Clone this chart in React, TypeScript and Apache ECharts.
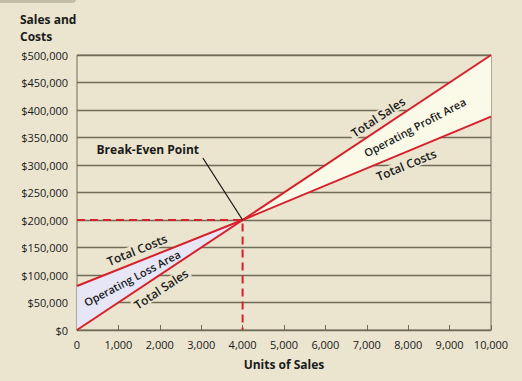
import React, { useEffect, useRef } from "react";
import * as echarts from "echarts";

// ---- data ----
const unitTicks = [0, 1000, 2000, 3000, 4000, 5000, 6000, 7000, 8000, 9000, 10000];
const totalSales: number[][] = [[0, 0], [10000, 500000]];
const totalCosts: number[][] = [[0, 80000], [4000, 200000], [10000, 388000]];
const breakEven: number[] = [4000, 200000];
const pointerStart: number[] = [3040, 312700];

// annotations: [x, y, text, alignedWith]
const annotations: [number, number, string, string][] = [
  [1450, 145500, "Total Costs", "costs"],
  [1330, 94500, "Operating Loss Area", "mid"],
  [2030, 74500, "Total Sales", "sales"],
  [7270, 387000, "Total Sales", "sales"],
  [8160, 369000, "Operating Profit Area", "mid"],
  [7950, 300000, "Total Costs", "costs"],
];
const breakEvenLabel: [number, number, string] = [1710, 329000, "Break-Even Point"];

const BG = "#ebe5cf";
const GRID = "#716c58";
const RED = "#d6202c";
const FONT = "'Open Sans', 'Noto Sans', sans-serif";

const lossPolygon = [totalCosts[0], breakEven, totalSales[0]];
const profitPolygon = [breakEven, totalSales[1], totalCosts[totalCosts.length - 1]];

function fmtMoney(v: number) {
  return "$" + v.toLocaleString("en-US");
}

export default function App() {
  const ref = useRef<HTMLDivElement>(null);
  useEffect(() => {
    document.body.style.margin = "0";
    const chart = echarts.init(ref.current!, undefined, { renderer: "svg" });

    const polySeries = (pts: number[][], color: string) => ({
      type: "custom",
      coordinateSystem: "cartesian2d",
      silent: true,
      z: 1,
      data: [[0, 0]],
      renderItem: (_p: any, api: any) => ({
        type: "polygon",
        shape: { points: pts.map((p) => api.coord(p)) },
        style: { fill: color },
      }),
    });

    const angleOf = (api: any, a: number[], b: number[]) => {
      const p1 = api.coord(a);
      const p2 = api.coord(b);
      return Math.atan2(-(p2[1] - p1[1]), p2[0] - p1[0]);
    };

    chart.setOption({
      animation: false,
      backgroundColor: BG,
      title: {
        text: "Sales and\nCosts",
        left: 20,
        top: 11,
        padding: 0,
        textStyle: { fontFamily: FONT, fontSize: 12, fontWeight: "bold", color: "#1a1a1a", lineHeight: 17 },
      },
      graphic: [
        { type: "rect", shape: { x: -10, y: -10, width: 86, height: 13, r: 4 }, style: { fill: "#c2bca6" } },
      ],
      grid: { left: 77, right: 31, top: 55, bottom: 51, show: true, borderColor: GRID, borderWidth: 1, backgroundColor: BG },
      xAxis: {
        type: "value",
        min: 0,
        max: 10000,
        interval: 1000,
        name: "Units of Sales",
        nameLocation: "middle",
        nameGap: 28,
        nameTextStyle: { fontFamily: FONT, fontSize: 12, fontWeight: "bold", color: "#1a1a1a" },
        axisLine: { show: true, lineStyle: { color: GRID, width: 1 } },
        axisTick: { show: true, inside: true, length: 5, lineStyle: { color: GRID } },
        splitLine: { show: false },
        axisLabel: {
          margin: 9,
          fontFamily: FONT,
          fontSize: 11,
          color: "#1a1a1a",
          formatter: (v: number) => v.toLocaleString("en-US"),
          customValues: unitTicks,
        },
      },
      yAxis: {
        type: "value",
        min: 0,
        max: 500000,
        interval: 50000,
        axisLine: { show: false },
        axisTick: { show: false },
        splitLine: { show: true, lineStyle: { color: GRID, width: 1.3 } },
        axisLabel: { margin: 9, fontFamily: FONT, fontSize: 11, color: "#1a1a1a", formatter: fmtMoney },
      },
      series: [
        polySeries(lossPolygon, "#e6e6f6"),
        polySeries(profitPolygon, "#fbfae8"),
        {
          type: "line",
          data: [[0, breakEven[1]], breakEven, [breakEven[0], 0]],
          symbol: "none",
          z: 3,
          lineStyle: { color: RED, width: 2, type: [8, 5] },
        },
        {
          type: "line",
          data: totalSales,
          symbol: "none",
          z: 4,
          lineStyle: { color: RED, width: 2 },
        },
        {
          type: "line",
          data: totalCosts,
          symbol: "none",
          z: 4,
          lineStyle: { color: RED, width: 2 },
        },
        {
          type: "line",
          data: [pointerStart, breakEven],
          symbol: "none",
          z: 5,
          lineStyle: { color: "#111", width: 1.2 },
        },
        {
          type: "custom",
          coordinateSystem: "cartesian2d",
          silent: true,
          z: 6,
          data: annotations.map((a) => [a[0], a[1]]),
          renderItem: (params: any, api: any) => {
            const a = annotations[params.dataIndex];
            const pos = api.coord([a[0], a[1]]);
            const sa = angleOf(api, totalSales[0], totalSales[1]);
            const ca = angleOf(api, totalCosts[0], totalCosts[totalCosts.length - 1]);
            const rot = a[3] === "sales" ? sa : a[3] === "costs" ? ca : (sa + ca) / 2;
            const isArea = a[3] === "mid";
            return {
              type: "text",
              x: pos[0],
              y: pos[1],
              rotation: rot,
              style: {
                text: a[2],
                fill: "#1a1a1a",
                font: `600 ${isArea ? 11 : 12}px ${FONT}`,
                align: "center",
                verticalAlign: "middle",
                backgroundColor: isArea ? "transparent" : BG,
                padding: [0, 2],
              },
            };
          },
        },
        {
          type: "custom",
          coordinateSystem: "cartesian2d",
          silent: true,
          z: 6,
          data: [[breakEvenLabel[0], breakEvenLabel[1]]],
          renderItem: (_p: any, api: any) => {
            const pos = api.coord([breakEvenLabel[0], breakEvenLabel[1]]);
            return {
              type: "text",
              x: pos[0],
              y: pos[1],
              style: {
                text: breakEvenLabel[2],
                fill: "#1a1a1a",
                font: `bold 12px ${FONT}`,
                align: "center",
                verticalAlign: "middle",
                backgroundColor: BG,
                padding: [1, 3],
              },
            };
          },
        },
      ],
    });
    return () => chart.dispose();
  }, []);
  return <div ref={ref} style={{ width: 522, height: 381, position: "absolute", left: 0, top: 0 }} />;
}
